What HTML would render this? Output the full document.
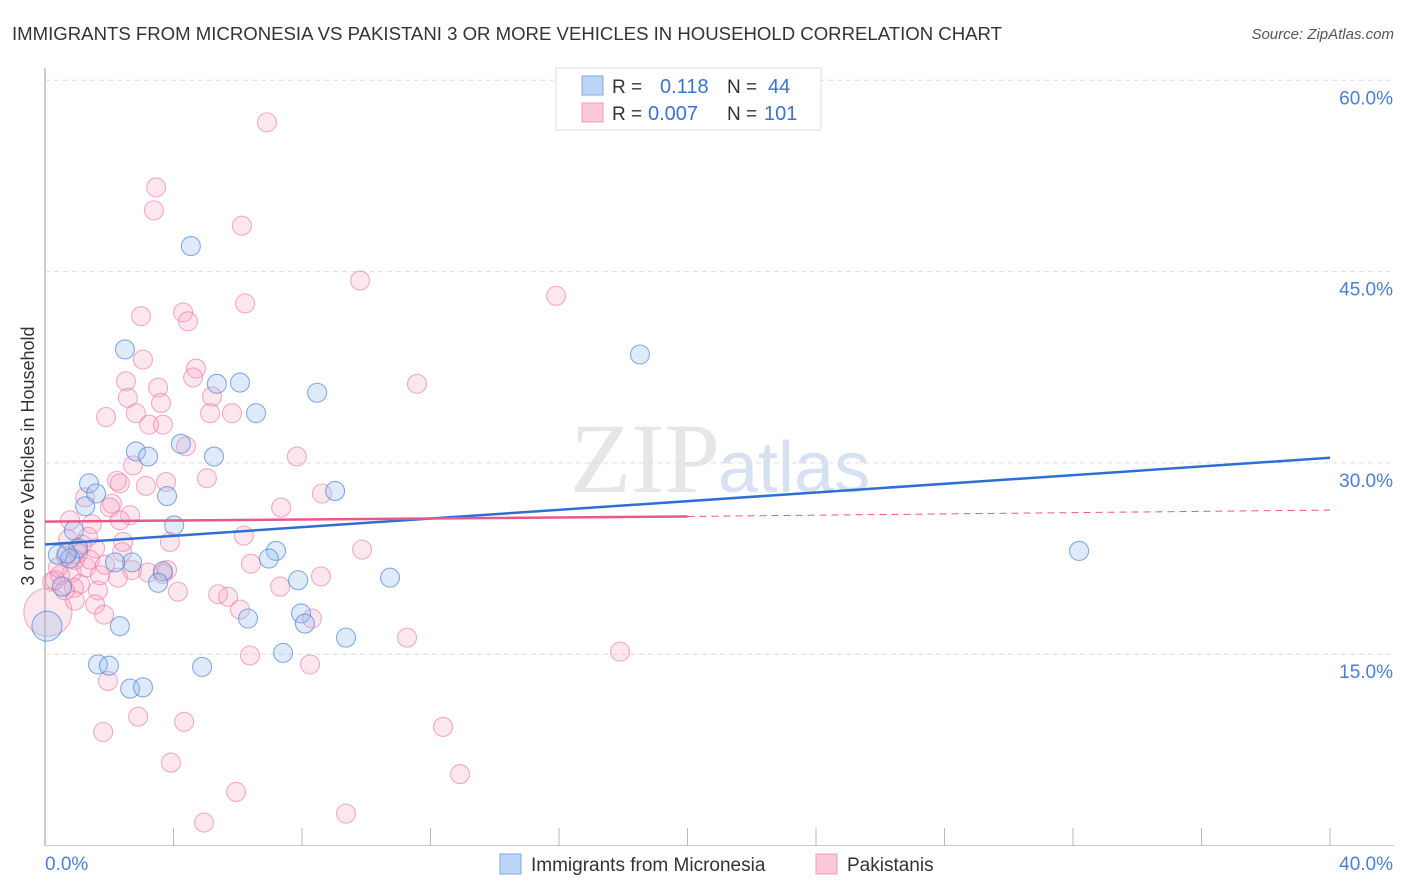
<!DOCTYPE html>
<html><head><meta charset="utf-8"><style>
body{margin:0;background:#fff;font-family:"Liberation Sans",sans-serif;}
svg{display:block}
</style></head><body>
<svg id="chart" width="1406" height="892">
<text x="12" y="40" font-size="18" fill="#333" textLength="990" lengthAdjust="spacingAndGlyphs">IMMIGRANTS FROM MICRONESIA VS PAKISTANI 3 OR MORE VEHICLES IN HOUSEHOLD CORRELATION CHART</text>
<text x="1394" y="39" font-size="15" fill="#555" font-style="italic" text-anchor="end">Source: ZipAtlas.com</text>
<text x="720" y="492" font-size="100" fill="#e6e6e6" text-anchor="end" font-family="Liberation Serif,serif">ZIP</text>
<text x="718" y="492" font-size="72" fill="#d6e2f2">atlas</text>
<g id="grid"></g>
<g id="marks"></g>
<g id="lines"></g>
<text transform="translate(34,456) rotate(-90)" font-size="18" fill="#333" text-anchor="middle">3 or more Vehicles in Household</text>
<g>
<rect x="556" y="68" width="265" height="62" fill="#fff" stroke="#ddd"/>
<rect x="582" y="76" width="21" height="19" fill="#bcd4f5" stroke="#7fa9e6"/>
<rect x="582" y="103" width="21" height="19" fill="#fbc9d8" stroke="#f09ab4"/>
<text x="612" y="93" font-size="19" fill="#333">R =</text>
<text x="660" y="93" font-size="20" fill="#3a73d0">0.118</text>
<text x="727" y="93" font-size="19" fill="#333">N =</text>
<text x="768" y="93" font-size="20" fill="#3a73d0">44</text>
<text x="612" y="120" font-size="19" fill="#333">R =</text>
<text x="648" y="120" font-size="20" fill="#3a73d0">0.007</text>
<text x="727" y="120" font-size="19" fill="#333">N =</text>
<text x="764" y="120" font-size="20" fill="#3a73d0">101</text>
</g>
<g>
<rect x="500" y="854" width="21" height="20" fill="#bcd4f5" stroke="#7fa9e6"/>
<text x="531" y="871" font-size="19" fill="#333">Immigrants from Micronesia</text>
<rect x="816" y="854" width="21" height="20" fill="#fbc9d8" stroke="#f09ab4"/>
<text x="847" y="871" font-size="19" fill="#333">Pakistanis</text>
</g>
</svg>
<script>
const xTicks=[0,40];
const yTicks=[15,30,45,60];
const blueX=[4.54,2.49,18.52,6.07,5.35,8.47,6.57,2.83,4.23,3.21,5.26,1.37,1.59,3.80,1.25,9.03,4.02,0.90,1.03,2.71,2.18,0.40,0.78,7.19,6.97,32.19,3.67,7.88,10.74,3.52,0.53,7.97,6.32,8.09,2.33,9.37,0.06,1.65,1.99,4.89,7.41,2.65,3.05,0.68];
const blueY=[47.0,38.9,38.5,36.3,36.2,35.5,33.9,30.9,31.5,30.5,30.5,28.4,27.6,27.4,26.6,27.8,25.1,24.7,23.3,22.2,22.2,22.8,22.5,23.1,22.5,23.1,21.5,20.8,21.0,20.6,20.3,18.2,17.8,17.4,17.2,16.3,17.2,14.2,14.1,14.0,15.1,12.3,12.4,22.9];
const pinkX=[6.91,3.46,3.39,6.13,9.81,15.91,6.23,2.99,4.30,4.45,3.05,4.70,4.61,2.52,3.52,11.58,5.20,2.58,3.61,1.90,2.83,5.14,5.82,3.24,3.67,4.39,7.84,2.74,2.24,2.33,3.77,5.04,3.14,1.25,8.62,7.35,2.09,2.02,2.65,1.46,0.78,6.19,3.89,1.34,2.43,1.56,9.87,1.03,2.40,0.65,6.41,2.71,3.21,3.80,0.40,0.84,1.28,8.59,2.27,3.67,7.32,1.09,4.14,5.39,5.70,1.65,0.22,0.90,6.07,8.31,1.56,1.84,11.27,17.90,6.38,8.25,1.96,2.90,4.33,1.81,12.39,3.92,12.92,5.95,4.95,9.37,0.09,0.47,0.31,0.62,1.15,0.93,1.40,1.71,1.87,0.72,2.33,0.93];
const pinkY=[56.7,51.6,49.8,48.6,44.3,43.1,42.5,41.5,41.8,41.1,38.1,37.4,36.7,36.4,35.9,36.2,35.2,35.1,34.7,33.6,33.9,33.9,33.9,33.0,33.0,31.3,30.5,29.8,28.6,28.4,28.5,28.8,28.2,27.3,27.6,26.5,26.8,26.5,25.9,25.2,25.5,24.3,23.8,24.2,23.8,23.3,23.2,22.9,23.0,22.7,22.1,21.6,21.4,21.6,21.8,21.4,21.8,21.1,21.0,21.3,20.3,20.5,19.9,19.7,19.5,20.0,20.7,20.2,18.5,17.8,18.9,18.1,16.3,15.2,14.9,14.2,12.9,10.1,9.7,8.9,9.3,6.5,5.6,4.2,1.8,2.5,18.3,21.2,20.8,20.0,23.6,22.4,22.4,21.2,22.0,24.0,25.5,19.2];
const blueLineX=[0,40];
const blueLineY=[23.6,30.4];
const pinkLineX=[0,20,40];
const pinkLineY=[25.4,25.8,26.3];

const NS='http://www.w3.org/2000/svg';
const X=v=>45+v/40*1285;
const Y=v=>845.5-v/15*191.3;
function mk(tag,attrs,parent){const e=document.createElementNS(NS,tag);for(const k in attrs)e.setAttribute(k,attrs[k]);parent.appendChild(e);return e;}
const grid=document.getElementById('grid');
const marks=document.getElementById('marks');
const lines=document.getElementById('lines');
let a=mk('line',{x1:45,y1:68,x2:45,y2:846,stroke:'#bbb','stroke-width':1.5},grid);


a=mk('line',{x1:45,y1:845.5,x2:1394,y2:845.5,stroke:'#ccc','stroke-width':1},grid);


for(let i=0;i<=10;i++){const t=mk('line',{x1:X(i*4),y1:828,x2:X(i*4),y2:846,stroke:'#bbb','stroke-width':1},grid);

}
yTicks.forEach(v=>{const g=mk('line',{x1:45,y1:Y(v),x2:1394,y2:Y(v),stroke:'#ddd','stroke-dasharray':'5,4'},grid);


const t=mk('text',{x:1393,y:Y(v)+24,'font-size':19,fill:'#4a7fd6','text-anchor':'end'},grid);t.textContent=v.toFixed(1)+'%';

});
xTicks.forEach((v,i)=>{const t=mk('text',{x:i==0?45:1393,y:870,'font-size':19,fill:'#4a7fd6','text-anchor':i==0?'start':'end'},grid);t.textContent=v.toFixed(1)+'%';

});
pinkX.forEach((x,i)=>{const r=(x<0.15)?24:9.5;const c=mk('circle',{cx:X(x),cy:Y(pinkY[i]),r:r,fill:'rgba(246,160,188,0.25)',stroke:'rgba(236,120,160,0.6)','stroke-width':1.1},marks);

});
blueX.forEach((x,i)=>{const r=(x<0.15)?15:9.5;const c=mk('circle',{cx:X(x),cy:Y(blueY[i]),r:r,fill:'rgba(150,188,240,0.3)',stroke:'rgba(70,130,220,0.65)','stroke-width':1.1},marks);

});
let l=mk('line',{x1:X(blueLineX[0]),y1:Y(blueLineY[0]),x2:X(blueLineX[1]),y2:Y(blueLineY[1]),stroke:'#2e6fd4','stroke-width':2.5},lines);


l=mk('line',{x1:X(pinkLineX[0]),y1:Y(pinkLineY[0]),x2:X(pinkLineX[1]),y2:Y(pinkLineY[1]),stroke:'#e8588a','stroke-width':2.5},lines);


l=mk('line',{x1:X(pinkLineX[1]),y1:Y(pinkLineY[1]),x2:X(pinkLineX[2]),y2:Y(pinkLineY[2]),stroke:'#e8588a','stroke-width':1,'stroke-dasharray':'7,5'},lines);


</script>
</body></html>
